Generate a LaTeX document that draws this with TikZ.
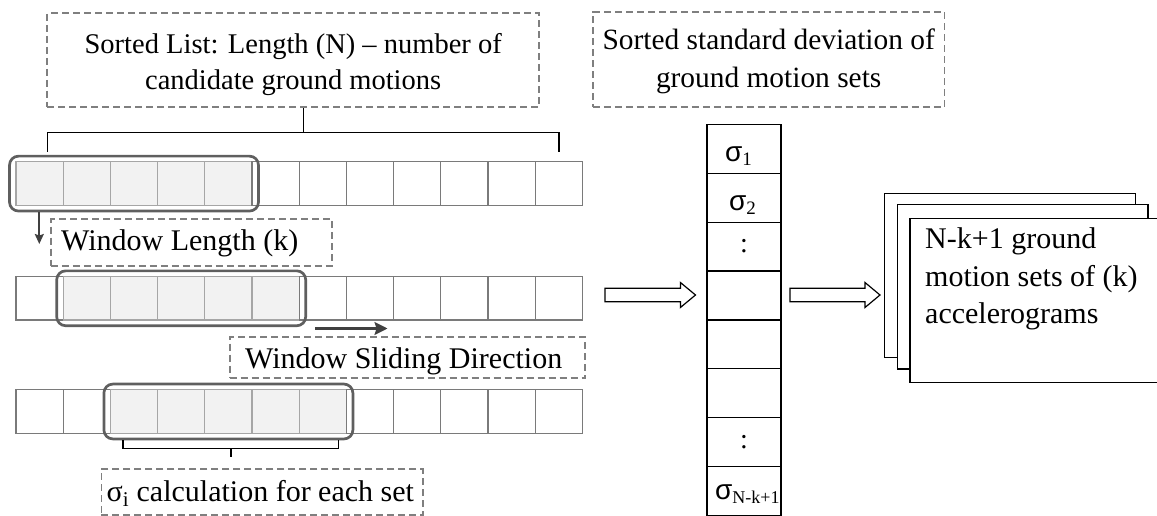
\documentclass[tikz,border=0pt]{standalone}
\usepackage{fontspec}
\setmainfont{Liberation Serif}
\newfontfamily\sigmafont{Liberation Sans}
\usetikzlibrary{arrows.meta,calc}
\definecolor{dashgray}{HTML}{7F7F7F}
\definecolor{cellgray}{HTML}{7A7A7A}
\definecolor{wingray}{HTML}{5F5F5F}
\definecolor{winfill}{HTML}{F2F2F2}
\definecolor{wincellgray}{HTML}{A6A6A6}
\definecolor{arrowgray}{HTML}{404040}
\begin{document}
\begin{tikzpicture}[x=1pt,y=-1pt,
  dbox/.style={draw=dashgray, line width=1.8pt, dash pattern=on 7pt off 4pt, inner sep=0pt, fill=white},
  cellbox/.style={line width=1.3pt, minimum width=47.2pt, minimum height=43.5pt, inner sep=0pt, outer sep=0pt},
  winbox/.style={draw=wingray, line width=2.7pt, rounded corners=9pt},
  bracket/.style={draw=black, line width=1.4pt},
  scell/.style={draw=black, line width=1.2pt, minimum width=74pt, minimum height=48.9pt, inner sep=0pt, outer sep=0pt},
  card/.style={draw=black, line width=1.3pt, fill=white, inner sep=0pt, anchor=north west},
  hollow/.style={draw=black, line width=1.2pt, fill=white},
  downarrow/.style={draw=arrowgray, line width=1.8pt, -{Stealth[length=10pt,width=9pt,inset=1.5pt]}},
  slidearrow/.style={draw=arrowgray, line width=2.2pt, -{Stealth[length=13pt,width=13pt,inset=2pt]}},
  txt/.style={font=\fontsize{30}{37.5}\selectfont, inner sep=0pt},
  siglab/.style={inner sep=0pt, anchor=base west, font=\sigmafont\fontsize{28}{28}\selectfont}
]
\useasboundingbox (0,0) rectangle (1157,516);
\clip (0,0) rectangle (1157,516);

% top-left box
\node[dbox, minimum width=491.7pt, minimum height=94pt] (tl) at (293.2,60.3) {};
\node[inner sep=0pt, align=center, font=\fontsize{28.5}{36}\selectfont] (tlt) at (293.2,64.5)
  {Sorted List: Length (N) -- number of\\candidate ground motions};

% top-middle box
\node[dbox, minimum width=351.5pt, minimum height=95.6pt] (tm) at (768.7,59.5) {};
\node[inner sep=0pt, align=center, font=\fontsize{29.4}{38}\selectfont] (tmt) at (768.7,61.5)
  {Sorted standard deviation of\\ground motion sets};

% top bracket
\coordinate (bt) at (303.3,132.7);
\coordinate (bl) at (47.3,151.7);
\coordinate (br) at (559,151.7);
\draw[bracket] (bt |- tl.south) -- (bt);
\draw[bracket] (bl) |- (bt) -| (br);

% rows of cells
\foreach \r/\y in {1/183.6, 2/298.3, 3/411.5} {
  \pgfmathtruncatemacro\e{\r+4}
  \foreach \c in {1,...,12} {
    \pgfmathsetmacro\cx{16+47.2*(\c-0.5)}
    \ifnum\c<\r \def\fc{white}\def\dc{cellgray}\else
      \ifnum\c>\e \def\fc{white}\def\dc{cellgray}\else
        \def\fc{winfill}\def\dc{wincellgray}\fi\fi
    \node[cellbox, fill=\fc, draw=\dc] (r\r c\c) at (\cx,\y) {};
  }
}

% windows
\draw[winbox] ($(r1c1.north west)+(-6.5,-5.7)$) rectangle ($(r1c5.south east)+(6.5,5.7)$);
\draw[winbox] ($(r2c2.north west)+(-6.5,-5.7)$) rectangle ($(r2c6.south east)+(6.5,5.7)$);
\draw[winbox] ($(r3c3.north west)+(-6.5,-5.7)$) rectangle ($(r3c7.south east)+(6.5,5.7)$);

% window length
\coordinate (da1) at (39.3,211.8);
\coordinate (da2) at (39.3,244);
\draw[downarrow] (da1) -- (da2);
\node[dbox, anchor=north west, minimum width=281pt, minimum height=46.7pt] (wl) at (50,218.3) {};
\node[txt, anchor=base west] (wlt) at (61,250) {Window Length (k)};

% sliding direction
\coordinate (sa1) at (315,328.5);
\coordinate (sa2) at (387.5,328.5);
\draw[slidearrow] (sa1) -- (sa2);
\node[dbox, minimum width=355.2pt, minimum height=41.6pt] (wsd) at (407.2,357.5) {};
\begin{scope}
  \clip (229.6,336.7) rectangle (584.8,374.5);
  \node[txt, anchor=base west] (wsdt) at (245,368.5) {Window Sliding Direction};
\end{scope}

% bottom bracket
\coordinate (cb) at (230.8,448.3);
\coordinate (cl) at (123,440);
\coordinate (cr) at (338.7,440);
\coordinate (cs) at (230.8,456.7);
\draw[bracket] (cl) |- (cb) -| (cr);
\draw[bracket] (cb) -- (cs);

% sigma_i box
\node[dbox, minimum width=321.6pt, minimum height=45.7pt] (sig) at (262.2,492.2) {};
\node[txt, anchor=base] (sigt) at (260.3,501) {σ\textsubscript{i} calculation for each set};

% hollow arrows
\draw[hollow] (605,288.3) -- (680.4,288.3) -- (680.4,282.5) -- (695.5,295) -- (680.4,307.5) -- (680.4,301.7) -- (605,301.7) -- cycle;
\draw[hollow] (790,288.3) -- (865,288.3) -- (865,282.5) -- (880,295) -- (865,307.5) -- (865,301.7) -- (790,301.7) -- cycle;

% sigma column
\foreach \i in {1,...,8} {
  \pgfmathsetmacro\sy{124.5+48.85*(\i-0.5)}
  \node[scell] (s\i) at (744,\sy) {};
}
\node[siglab] (sl1) at (725,161) {σ\raisebox{-4.5pt}{\rmfamily\fontsize{19}{19}\selectfont 1}};
\node[siglab] (sl2) at (729,211) {σ\raisebox{-3pt}{\rmfamily\fontsize{19}{19}\selectfont 2}};
\node[inner sep=0pt, font=\fontsize{28}{28}\selectfont] (c3) at (s3) {:};
\node[inner sep=0pt, font=\fontsize{28}{28}\selectfont] (c7) at (s7) {:};
\node[siglab] (sl8) at (715,499) {σ\raisebox{-4pt}{\rmfamily\fontsize{18}{18}\selectfont N-k+1}};

% stacked cards
\node[card, minimum width=251pt, minimum height=164pt] (card1) at (884,192.7) {};
\node[card, minimum width=250.6pt, minimum height=164.3pt] (card2) at (896.7,204) {};
\node[card, minimum width=262pt, minimum height=164pt] (card3) at (909.3,217.7) {};
\node[txt, anchor=north west, align=left] (cardt) at (925,227.8)
  {N-k+1 ground\\motion sets of (k)\\accelerograms};
\end{tikzpicture}
\end{document}
